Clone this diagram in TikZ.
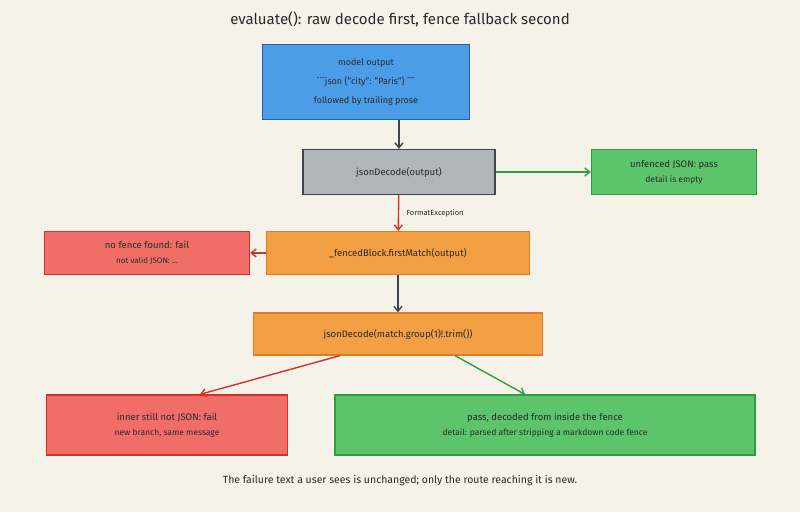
\documentclass[tikz,border=0pt]{standalone}
\usepackage{fontspec}
\setmainfont{Fira Sans}
\usepackage{tikz}
\usetikzlibrary{arrows.meta, positioning}
\definecolor{bgcolor}{HTML}{F5F2EA}
\definecolor{bluefill}{HTML}{4A9DE6}
\definecolor{blueline}{HTML}{1E5FA6}
\definecolor{grayfill}{HTML}{B1B4B8}
\definecolor{grayline}{HTML}{3E454D}
\definecolor{greenfill}{HTML}{5CC46B}
\definecolor{greenline}{HTML}{2F9E40}
\definecolor{redfill}{HTML}{F06E67}
\definecolor{redline}{HTML}{D2322B}
\definecolor{orangefill}{HTML}{F2A043}
\definecolor{orangeline}{HTML}{E57A1F}
\definecolor{inkcolor}{HTML}{2A2A2A}

\begin{document}
\begin{tikzpicture}[
    x=1pt, y=-1pt,
    box/.style={rectangle, draw, line width=1.3pt, align=center, inner sep=0pt, text=inkcolor, font=\fontsize{9.5}{15}\selectfont},
    bluebox/.style={box, fill=bluefill, draw=blueline},
    graybox/.style={box, fill=grayfill, draw=grayline},
    greenbox/.style={box, fill=greenfill, draw=greenline},
    redbox/.style={box, fill=redfill, draw=redline},
    orangebox/.style={box, fill=orangefill, draw=orangeline},
    darkarrow/.style={-{Straight Barb[length=5pt, width=8pt]}, line width=1.4pt, draw=grayline},
    greenarrow/.style={-{Straight Barb[length=5pt, width=8pt]}, line width=1.4pt, draw=greenline},
    redarrow/.style={-{Straight Barb[length=5pt, width=8pt]}, line width=1.4pt, draw=redline},
    small/.style={font=\fontsize{7.5}{9}\selectfont}
]
\useasboundingbox[fill=bgcolor] (0,0) rectangle (800,512);

\node[font=\fontsize{15}{17}\selectfont, text=inkcolor] (title) at (400,19) {evaluate(): raw decode first, fence fallback second};

\node[bluebox, minimum width=207, minimum height=75, font=\fontsize{9}{19}\selectfont] (model) at (366,82)
  {model output\\ \textasciigrave\textasciigrave\textasciigrave json \{"city": "Paris"\} \textasciigrave\textasciigrave\textasciigrave\\ followed by trailing prose};
\node[graybox, minimum width=192, minimum height=45] (decode) at (399,172) {jsonDecode(output)};
\node[greenbox, minimum width=165, minimum height=45] (unfenced) at (674,172)
  {unfenced JSON: pass\\ {\fontsize{8.5}{10}\selectfont detail is empty}};
\node[orangebox, minimum width=263, minimum height=43] (fenced) at (398,253) {\_fencedBlock.firstMatch(output)};
\node[redbox, minimum width=205, minimum height=43] (nofence) at (147,253)
  {no fence found: fail\\ {\fontsize{8}{10}\selectfont not valid JSON: ...}};
\node[orangebox, minimum width=289, minimum height=42] (inner) at (398,334) {jsonDecode(match.group(1)!.trim())};
\node[redbox, minimum width=241, minimum height=60] (stillbad) at (167,425)
  {inner still not JSON: fail\\ {\fontsize{8.5}{12}\selectfont new branch, same message}};
\node[greenbox, minimum width=420, minimum height=60] (pass) at (545,425)
  {pass, decoded from inside the fence\\ {\fontsize{8.5}{12}\selectfont detail: parsed after stripping a markdown code fence}};

\node[font=\fontsize{10.5}{12}\selectfont, text=inkcolor] (footer) at (400,481) {The failure text a user sees is unchanged; only the route reaching it is new.};

% flow
\draw[darkarrow] (model.south -| decode) -- (decode);
\draw[greenarrow] (decode) -- (unfenced);
\draw[redarrow] (decode) -- node[right, small, text=inkcolor, xshift=4pt] {FormatException} (fenced);
\draw[redarrow] (fenced) -- (nofence);
\draw[darkarrow] (fenced) -- (inner);
\draw[redarrow] ([xshift=-58pt]inner.south) -- ([xshift=33pt]stillbad.north);
\draw[greenarrow] ([xshift=57pt]inner.south) -- ([xshift=-20pt]pass.north);

\end{tikzpicture}
\end{document}
